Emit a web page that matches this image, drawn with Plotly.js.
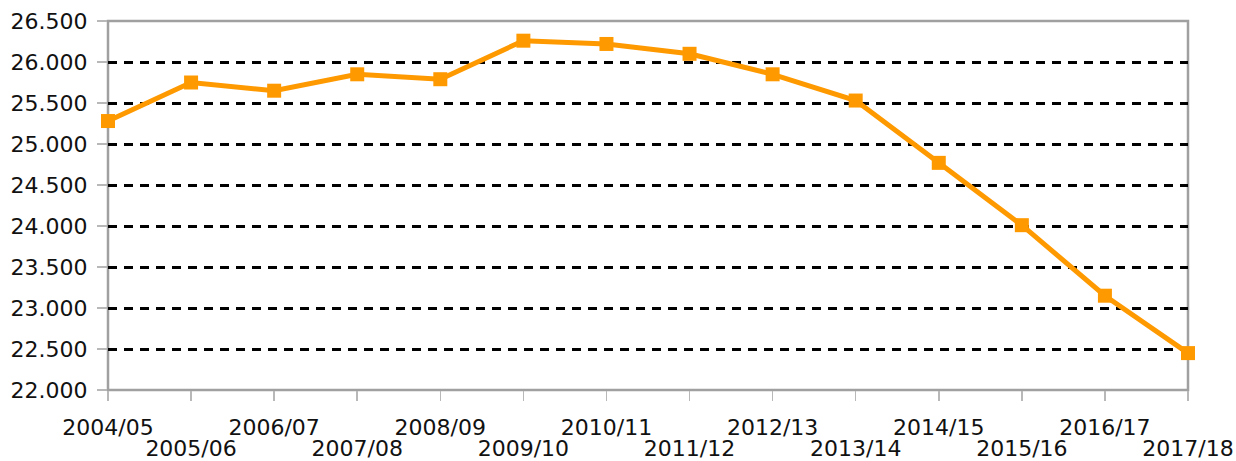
<!DOCTYPE html>
<html>
<head>
<meta charset="utf-8">
<script src="https://cdn.plot.ly/plotly-3.0.1.min.js"></script>
<style>
html,body{margin:0;padding:0;background:#fff;}
#chart{width:1236px;height:461px;}
</style>
</head>
<body>
<div id="chart"></div>
<script>
const categories = ["2004/05","2005/06","2006/07","2007/08","2008/09","2009/10","2010/11","2011/12","2012/13","2013/14","2014/15","2015/16","2016/17","2017/18"];
const values = [25280, 25750, 25650, 25850, 25790, 26260, 26220, 26100, 25850, 25530, 24770, 24010, 23150, 22450];
const yTicks = [22000, 22500, 23000, 23500, 24000, 24500, 25000, 25500, 26000, 26500];

const idx = categories.map((c, i) => i);
const oddIdx = idx.filter(i => i % 2 === 1);

const orange = '#FF9900';
const fontBase = {family: 'DejaVu Sans, Verdana, sans-serif', size: 22, color: '#111111'};

const trace = {
  x: idx,
  y: values,
  type: 'scatter',
  mode: 'lines+markers',
  line: {color: orange, width: 5},
  marker: {symbol: 'square', size: 14, color: orange},
  hoverinfo: 'skip',
  cliponaxis: false
};

const layout = {
  width: 1236, height: 461,
  margin: {l: 108, r: 48, t: 21, b: 71},
  paper_bgcolor: '#ffffff',
  plot_bgcolor: 'rgba(0,0,0,0)',
  separators: ',.',
  showlegend: false,
  font: fontBase,
  xaxis: {
    range: [0, categories.length - 1],
    tickmode: 'array',
    tickvals: idx,
    ticktext: idx.map(i => i % 2 === 0 ? categories[i] : ''),
    ticks: 'outside', ticklen: 10, tickwidth: 1.5, tickcolor: '#b8b8b8',
    showgrid: false, zeroline: false, showline: false,
    tickfont: fontBase,
    ticklabelstandoff: 8
  },
  xaxis2: {
    overlaying: 'x',
    side: 'bottom',
    anchor: 'y',
    range: [0, categories.length - 1],
    tickmode: 'array',
    tickvals: oddIdx,
    ticktext: oddIdx.map(i => categories[i]),
    ticks: '', showgrid: false, zeroline: false, showline: false,
    tickfont: fontBase,
    ticklabelstandoff: 43
  },
  yaxis: {
    range: [22000, 26500],
    tickmode: 'array',
    tickvals: yTicks,
    tickformat: ',d',
    ticks: 'outside', ticklen: 10, tickwidth: 1.5, tickcolor: '#b8b8b8',
    showgrid: true, gridcolor: '#000000', gridwidth: 3, griddash: '9px,7px',
    zeroline: false, showline: false,
    tickfont: fontBase,
    ticklabelstandoff: 5
  },
  shapes: [{
    type: 'rect', xref: 'paper', yref: 'paper', x0: 0, x1: 1, y0: 0, y1: 1,
    line: {color: '#a0a0a0', width: 2.5}, layer: 'below'
  }]
};

const trace2 = {x: [0], y: [null], xaxis: 'x2', yaxis: 'y', type: 'scatter', mode: 'markers', hoverinfo: 'skip', showlegend: false};

Plotly.newPlot('chart', [trace, trace2], layout, {staticPlot: true, displayModeBar: false});
</script>
</body>
</html>
